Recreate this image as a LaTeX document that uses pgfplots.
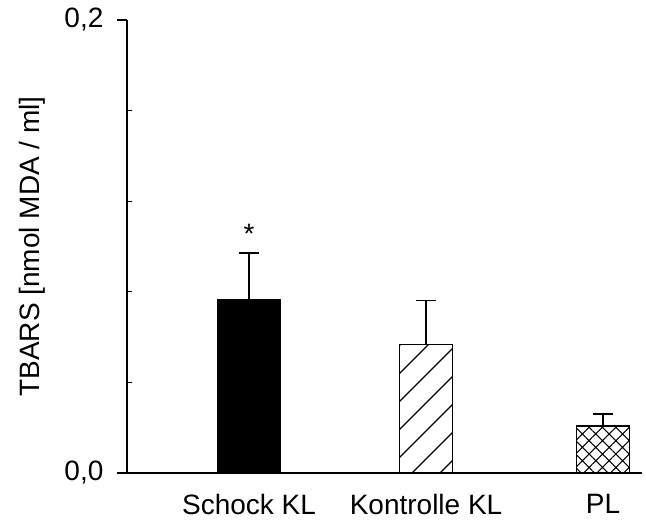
\documentclass[border=0pt]{standalone}
\usepackage{fontspec}
\setmainfont{Liberation Sans}
\usepackage{pgfplots}
\pgfplotsset{compat=1.18}
\usetikzlibrary{patterns.meta}
\begin{document}
\fontsize{21}{25}\selectfont
\begin{tikzpicture}
\useasboundingbox (-95.25pt,-36pt) rectangle (389.25pt,354.75pt);
\begin{axis}[
  at={(0,0)}, anchor=south west,
  scale only axis,
  width=386.25pt, height=339.75pt,
  xmin=0.3107, xmax=3.22,
  ymin=0, ymax=0.2,
  axis lines*=left,
  x axis line style={line width=1.5pt, -},
  y axis line style={line width=1pt, -},
  xtick={1,2,3},
  xticklabels={Schock KL, Kontrolle KL, PL},
  x tick style={draw=none},
  xticklabel style={font=\fontsize{21}{25}\selectfont, yshift=-1pt},
  ytick={0,0.2},
  yticklabels={{0,0},{0,2}},
  minor ytick={0.04,0.08,0.12,0.16},
  tick align=outside,
  major tick length=7.5pt,
  minor tick length=4pt,
  minor y tick style={xshift=4pt},
  y tick style={line width=0.8pt, black},
  yticklabel style={font=\fontsize{21}{25}\selectfont, xshift=-3pt},
  /pgf/number format/assume math mode=true,
  ylabel={TBARS [nmol MDA / ml]},
  ylabel style={font=\fontsize{21}{25}\selectfont},
  ybar, bar shift=0pt,
  clip=false,
  error bars/y dir=plus, error bars/y explicit,
  error bars/error bar style={line width=1pt, black},
  error bars/error mark options={rotate=90, mark size=7.5pt, line width=1pt, black},
]
\addplot[draw=black, line width=1pt, fill=black, bar width=0.354]
  coordinates {(1,0.0766) +- (0,0.0206)};
\addplot[draw=black, line width=1pt, fill=white, bar width=0.302,
  postaction={pattern={Lines[angle=45, distance=14.85pt, line width=0.9pt]}}]
  coordinates {(2,0.0567) +- (0,0.0195)};
\addplot[draw=black, line width=1pt, fill=white, bar width=0.302,
  postaction={pattern={Hatch[angle=45, distance=7.1pt, line width=0.8pt]}}]
  coordinates {(3,0.0207) +- (0,0.0053)};
\node[font=\fontsize{21}{25}\selectfont] at (axis cs:1,0.1055) {*};
\end{axis}
\end{tikzpicture}
\end{document}
